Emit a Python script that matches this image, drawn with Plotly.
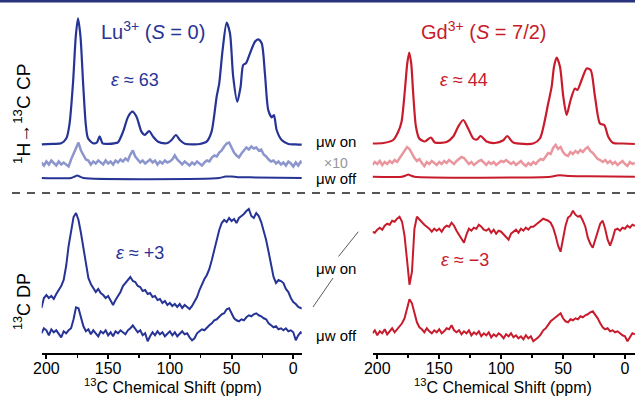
import plotly.graph_objects as go

W, H = 635, 396
FONT = "Liberation Sans, Arial, sans-serif"
BLUE = "rgb(38,52,150)"
LBLUE = "rgb(140,150,205)"
RED = "rgb(200,28,45)"
LRED = "rgb(234,150,158)"
GRAY = "rgb(150,150,150)"

# ---------------- data ----------------
PPM_GRID = list(range(204, -10, -2))  # noisy traces sampled every 2 ppm

# Lu3+ 1H->13C CP, microwaves on (smooth)
LU_CP_ON_PPM = [204, 195, 188, 183.8, 181.3, 178.4, 176.2, 174.4, 172.4, 170.3, 168.1, 166.3, 162.2, 159, 156.8,
                154.5, 150, 145, 142, 137.9, 133.8, 130.3, 127, 123, 120.3, 116.8, 113.5, 109.5, 104, 101.4,
                98.6, 95.1, 91.9, 87.8, 80, 75.7, 70.2, 66.2, 62.1, 60, 57.3, 54, 51.3, 48.7, 45.4, 42.7, 40.6,
                38.4, 35.1, 31.1, 28.4, 25.6, 23, 20.3, 17.5, 15.7, 13.5, 9.4, 4, -2, -8]
LU_CP_ON = [0, 0.5, 1, 6, 20, 62, 108, 126, 108, 62, 20, 6, 1, 2, 8,
            1, 0.5, 1, 2, 12.6, 27.6, 32.6, 27.6, 12.6, 9.3, 13.3, 7.6, 2.6, 1, 1.6,
            4.3, 9.3, 4.3, 0.5, 0, 0.3, 2.6, 12.6, 47.6, 61, 94, 121.6, 111, 67.6, 42.6, 57.6, 79.3,
            81, 91, 102.6, 105, 101, 71, 34.3, 27, 29.3, 14.3, 4.3, 0.3, 0, -0.5]

# Lu3+ CP microwaves off (x10, noisy)
LU_CP_X10 = [1, -2, 2, -1, 3, 0, -2, 2, -1, 1,
             -1, -3, 4, 10, 16, 21, 13, 8, 4, 3,
             -1, 2, 0, 3, 1, -1, 3, 0, 2, -1,
             3, 1, 4, 2, 5, 3, 9, 13, 7, 4,
             1, 3, 0, 2, 4, 1, 3, -1, 2, 0,
             3, 1, 2, 4, 8, 4, 1, -1, 2, 0,
             -2, 1, -1, 2, 0, -2, 1, 3, 2, 6,
             8, 7, 11, 13, 17, 20, 21, 16, 11, 8,
             6, 10, 13, 16, 14, 17, 15, 16, 13, 14,
             9, 7, 4, 2, 3, 0, 2, -1, 1, -2,
             2, 0, -3, 1, -2, 2, 0]

# Lu3+ CP microwaves off (x1)
LU_CP_OFF_PPM = [204, 180, 177, 175, 173, 170, 60, 55, 50, 45, 30, -8]
LU_CP_OFF = [0, 0, 1.5, 2.5, 1.5, 0, 0, 1.5, 1.5, 0.8, 0.6, 0]

# Gd3+ CP microwaves on (smooth)
GD_CP_ON_PPM = [204, 195, 187.2, 183.1, 180.4, 177.7, 175.8, 174.2, 172.6, 171, 168.8, 166.1, 161.6, 156.7, 153.5,
                144, 138.7, 134.6, 130.6, 126.6, 122.5, 119.5, 116.6, 111.7, 105, 98.5, 95.1, 90.2, 74.1, 68.7,
                62, 59.2, 57.3, 55.2, 52.5, 49.8, 47.1, 43.9, 40.4, 38.5, 35, 30.9, 27.7, 24.2, 20.2, 16.7,
                13.5, 9.5, 2, -8]
GD_CP_ON = [0, 0.5, 3.5, 11.8, 21.8, 53.5, 80, 91, 80, 50, 17, 5, 2, 6, 1,
            1.5, 7, 17, 23.5, 15, 5, 4, 7.5, 2, 0.5, 3, 7.5, 1, 0, 5,
            40, 56.8, 76.8, 86, 77, 46.8, 28.5, 43.5, 55, 53.5, 63.5, 75, 73.5, 46.8, 20, 18.5,
            6.8, 0.5, 0, -0.5]

GD_CP_X10 = [-1, 2, 0, 3, -1, 2, 0, 3, 1, 4,
             2, 6, 9, 13, 17, 15, 10, 6, 3, 5,
             1, -2, 2, 0, 3, 1, -1, 2, 0, 3,
             1, 4, 2, 0, 3, 5, 7, 6, 3, 0,
             2, -1, 1, 3, 4, 1, -1, 2, 0, 2,
             -1, 1, 3, 2, 4, 2, 0, 2, -1, 1,
             3, 0, -2, 1, -1, 2, 0, 3, 5, 4,
             8, 11, 10, 16, 19, 15, 17, 12, 9, 8,
             12, 10, 13, 11, 14, 12, 15, 17, 13, 11,
             8, 5, 4, 2, 4, 1, 3, 0, 2, -1,
             1, 3, 0, -2, 2, 0, 1]

GD_CP_OFF_PPM = [204, 180, 177, 175, 173, 170, 60, 55, 50, 45, 30, -8]
GD_CP_OFF = [0, 0, 1.2, 2.2, 1.2, 0, 0, 1.3, 1.3, 0.7, 0.5, 0]

# 13C direct polarization
LU_DP_ON = [2, 12, 15, 12, 14, 11, 16, 20, 24, 30,
            44, 64, 80, 93, 97, 90, 77, 62, 45, 32,
            26, 22, 18, 21, 17, 15, 12, 14, 9, 5,
            10, 14, 18, 24, 27, 30, 33, 29, 28, 24,
            23, 19, 20, 16, 17, 13, 14, 10, 11, 7,
            9, 5, 7, 4, 6, 3, 6, 2, 5, 3,
            1, 4, 8, 13, 20, 26, 31, 35, 41, 50,
            60, 71, 80, 87, 90, 88, 92, 89, 91, 87,
            92, 94, 96, 99, 101, 94, 92, 97, 94, 88,
            79, 70, 58, 46, 33, 27, 30, 29, 27, 21,
            18, 12, 8, 6, 3, 2, 1]

LU_DP_OFF = [0, 5, 3, -2, 4, 1, 3, -1, -4, 2,
             0, 3, 5, 14, 26, 25, 15, 7, 2, 4,
             -1, 3, 0, -3, 2, 0, 3, -2, 1, -3,
             2, 0, 3, 1, -1, 3, 5, 8, 4, 1,
             3, -2, 0, -8, -3, 1, -2, 2, -1, 1,
             -3, 0, 2, -2, 1, -3, 0, 2, -1, 0,
             -4, -7, -5, 0, 2, 4, 3, 6, 8, 10,
             13, 14, 17, 19, 20, 24, 25, 20, 15, 13,
             12, 14, 13, 16, 18, 17, 19, 20, 18, 17,
             15, 14, 10, 8, 6, 7, 4, 5, 3, 5,
             2, 3, 1, -7, -2, 1, 0]

GD_DP_ON = [0, -1, 2, 4, 2, 6, 8, 7, 11, 10,
            13, 15, 10, -4, -28, -53, -40, 3, 15, 12,
            10, 7, 5, 3, 0, 3, 1, 3, 0, 4,
            6, 5, 9, 6, 1, -3, -8, -11, -3, 3,
            1, 4, 3, 7, 5, 2, 1, 3, -1, 2,
            -2, 1, 0, -3, -6, -8, -2, 0, 2, -1,
            3, 1, 4, 2, 5, 5, 7, 9, 11, 13,
            12, 11, 9, 4, -4, -14, -20, -6, 6, 14,
            16, 21, 17, 15, 16, 11, 5, -6, -12, -16,
            -8, 2, 8, 11, 3, -8, -14, -7, 2, 3,
            1, 4, 3, 6, 4, 7, 6]

GD_DP_OFF = [0, 3, -2, 2, 0, 4, -1, 2, 5, 1,
             4, 7, 10, 15, 24, 34, 30, 20, 11, 6,
             4, 1, 5, 2, 0, 3, 1, 4, 0, 2,
             5, 4, 8, 3, 1, 3, -1, 2, 0, 3,
             -2, 1, -1, 2, -3, 0, -2, 1, -4, -1,
             -3, 0, -2, -5, -1, -3, 0, -4, -2, -5,
             -3, -6, -2, -5, -3, -8, -6, -4, -1, 3,
             5, 9, 12, 14, 16, 18, 20, 15, 12, 11,
             14, 13, 15, 14, 17, 16, 18, 19, 21, 22,
             19, 15, 10, 6, 4, 5, 2, 3, 1, 2,
             0, -2, -3, -8, -4, 0, -1]

X_TICKS = [200, 150, 100, 50, 0]

# ---------------- layout helpers ----------------
AXIS_PX = 352.5          # pixel row of the x axis line


def base(ypix):
    """vertical offset (data units) of a trace whose baseline sits at pixel row ypix"""
    return AXIS_PX - ypix


def px(x):
    return x / W


def py(y):
    return 1 - y / H


fig = go.Figure()


def add(xs, ys, off, color, width, shape, ax):
    line = dict(color=color, width=width, shape=shape)
    if shape == "spline":
        line["smoothing"] = 0.7
    fig.add_trace(go.Scatter(
        x=xs, y=[v + off for v in ys], mode="lines", line=line,
        xaxis="x" if ax == 1 else "x2", yaxis="y" if ax == 1 else "y2",
        hoverinfo="skip", showlegend=False))


# Lu column
add(PPM_GRID, LU_CP_X10, base(163.5), LBLUE, 2.5, "linear", 1)
add(LU_CP_OFF_PPM, LU_CP_OFF, base(178), BLUE, 2, "spline", 1)
add(LU_CP_ON_PPM, LU_CP_ON, base(144.3), BLUE, 2.2, "spline", 1)
add(PPM_GRID, LU_DP_ON, base(310), BLUE, 2, "linear", 1)
add(PPM_GRID, LU_DP_OFF, base(333.3), BLUE, 2, "linear", 1)
# Gd column
add(PPM_GRID, GD_CP_X10, base(164), LRED, 2.5, "linear", 2)
add(GD_CP_OFF_PPM, GD_CP_OFF, base(176.7), RED, 2, "spline", 2)
add(GD_CP_ON_PPM, GD_CP_ON, base(143.5), RED, 2.2, "spline", 2)
add(PPM_GRID, GD_DP_ON, base(231.7), RED, 2, "linear", 2)
add(PPM_GRID, GD_DP_OFF, base(333.3), RED, 2, "linear", 2)

xcommon = dict(
    showline=True, linecolor="black", linewidth=2, ticks="outside", ticklen=4, tickwidth=2,
    tickcolor="black", tickvals=X_TICKS, ticktext=[str(t) for t in X_TICKS],
    tickfont=dict(family=FONT, size=16, color="black"), showgrid=False, zeroline=False,
    ticklabelstandoff=-4,
    minor=dict(tickvals=[175, 125, 75, 25], ticks="outside", ticklen=3, tickwidth=1.5, tickcolor="black"),
    automargin=False, fixedrange=True,
)
ycommon = dict(domain=[1 - AXIS_PX / H, 1], range=[0, AXIS_PX], visible=False, automargin=False,
               fixedrange=True)

fig.update_layout(
    width=W, height=H, margin=dict(l=0, r=0, t=0, b=0),
    paper_bgcolor="white", plot_bgcolor="white", template="none",
    xaxis=dict(domain=[px(41.7), px(301.7)], range=[203.8, -6.8], anchor="y", **xcommon),
    xaxis2=dict(domain=[px(372.7), 1], range=[203.7, -8.1], anchor="y2", **xcommon),
    yaxis=dict(**ycommon),
    yaxis2=dict(**ycommon),
)

ann = []


def text(x, y, s, size, color="black", angle=0, xanchor="center"):
    ann.append(dict(x=px(x), y=py(y), xref="paper", yref="paper", text=s, showarrow=False,
                    font=dict(family=FONT, size=size, color=color), textangle=angle,
                    xanchor=xanchor, yanchor="middle"))


text(153, 30, "Lu<sup>3+</sup> (<i>S</i> = 0)", 20, BLUE)
text(483, 30, "Gd<sup>3+</sup> (<i>S</i> = 7/2)", 20, RED)
text(135, 80, "<i>ε</i> ≈ 63", 18, BLUE)
text(464, 80, "<i>ε</i> ≈ 44", 18, RED)
text(140, 253, "<i>ε</i> ≈ +3", 18, BLUE)
text(465, 260, "<i>ε</i> ≈ −3", 18, RED)
text(336, 141, "μw on", 15)
text(336, 162.5, "×10", 14, GRAY)
text(336, 178, "μw off", 15)
text(336, 268, "μw on", 15)
text(336, 335, "μw off", 15)
text(22, 114, "<sup>1</sup>H→<sup>13</sup>C CP", 19, angle=-90)
text(22, 302, "<sup>13</sup>C DP", 18, angle=-90)
text(172.5, 385.5, "<sup>13</sup>C Chemical Shift (ppm)", 16)
text(503, 385.5, "<sup>13</sup>C Chemical Shift (ppm)", 16)
fig.update_layout(annotations=ann)

shapes = [
    dict(type="rect", xref="paper", yref="paper", x0=0, x1=1, y0=py(2.5), y1=1,
         fillcolor="rgb(40,50,125)", line=dict(width=0)),
    dict(type="line", xref="paper", yref="paper", x0=px(12), x1=1, y0=py(193), y1=py(193),
         line=dict(color="rgb(30,30,30)", width=1.5, dash="8px,7px")),
    dict(type="line", xref="paper", yref="paper", x0=px(358.3), x1=px(338.5), y0=py(231.7), y1=py(256.5),
         line=dict(color="rgb(90,90,90)", width=1)),
    dict(type="line", xref="paper", yref="paper", x0=px(333), x1=px(313), y0=py(278), y1=py(307),
         line=dict(color="rgb(90,90,90)", width=1)),
]
fig.update_layout(shapes=shapes)

fig.write_html("out.html", config={"displayModeBar": False, "staticPlot": True},
               post_script="document.body.style.margin='0';document.body.style.padding='0';"
                           "document.body.style.overflow='hidden';")
